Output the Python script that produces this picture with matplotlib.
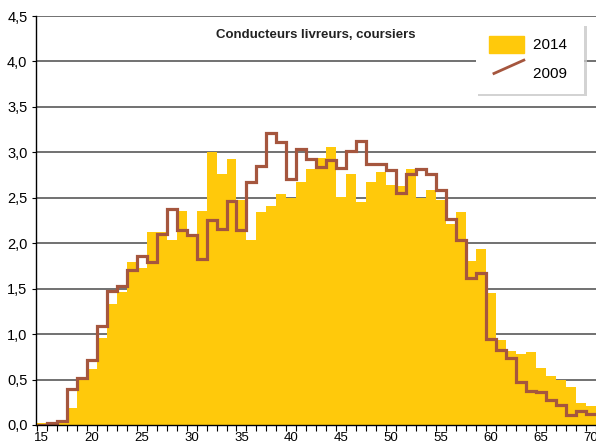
import numpy as np
import matplotlib
matplotlib.use('Agg')
from matplotlib import pyplot as plt
from matplotlib.lines import Line2D
from matplotlib.legend_handler import HandlerBase

plt.rcParams['font.family'] = ['Liberation Sans', 'DejaVu Sans']

# ages (one bar per year)
ages = list(range(15, 71))

# share of workers by age, 2014 (bars)
v2014 = [0.02, 0.02, 0.03, 0.19, 0.52, 0.62, 0.96, 1.33, 1.46, 1.79,
         1.73, 2.12, 2.12, 2.04, 2.36, 2.07, 2.36, 3.00, 2.76, 2.93,
         2.48, 2.03, 2.34, 2.41, 2.54, 2.50, 2.67, 2.82, 2.94, 3.06,
         2.51, 2.76, 2.45, 2.67, 2.78, 2.64, 2.63, 2.82, 2.50, 2.59,
         2.48, 2.21, 2.34, 1.80, 1.94, 1.45, 0.94, 0.81, 0.78, 0.80,
         0.63, 0.54, 0.50, 0.42, 0.24, 0.21]

# share of workers by age, 2009 (step line)
v2009 = [0.00, 0.02, 0.04, 0.40, 0.52, 0.71, 1.09, 1.47, 1.53, 1.71,
         1.86, 1.79, 2.10, 2.38, 2.15, 2.09, 1.83, 2.26, 2.16, 2.47,
         2.15, 2.67, 2.85, 3.21, 3.11, 2.71, 3.04, 2.93, 2.84, 2.92,
         2.83, 3.02, 3.12, 2.87, 2.87, 2.81, 2.55, 2.76, 2.82, 2.76,
         2.59, 2.27, 2.04, 1.62, 1.67, 0.95, 0.82, 0.74, 0.47, 0.37,
         0.36, 0.28, 0.22, 0.11, 0.15, 0.12]

yticks = [0.0, 0.5, 1.0, 1.5, 2.0, 2.5, 3.0, 3.5, 4.0, 4.5]
xticks = [15, 20, 25, 30, 35, 40, 45, 50, 55, 60, 65, 70]

yellow = '#ffc90b'
brown = '#a5563e'


# petit trait en biais pour la légende de la courbe
class DiagHandler(HandlerBase):
    def create_artists(self, legend, orig_handle, xdescent, ydescent,
                       width, height, fontsize, trans):
        l = Line2D([xdescent + 0.15 * width, xdescent + width],
                   [ydescent + 0.05 * height, ydescent + 0.85 * height],
                   color=orig_handle.get_color(), lw=orig_handle.get_linewidth(),
                   transform=trans)
        return [l]


fig = plt.figure(figsize=(5.96, 4.45), dpi=100)
ax = fig.add_axes([0.06, 0.045, 0.94, 0.919])

ax.bar(ages, v2014, width=1.0, color=yellow, linewidth=0, zorder=2, label='2014')
edges = np.arange(ages[0] - 0.5, ages[-1] + 1.0, 1.0)
ax.stairs(v2009, edges, baseline=None, color=brown, lw=2.3, zorder=3)

ax.set_xlim(14.4, 70.1)
ax.set_ylim(0, 4.5)
ax.set_yticks(yticks)
ax.set_yticklabels([('%.1f' % t).replace('.', ',') for t in yticks], fontsize=10.5)
ax.set_xticks(xticks)
ax.set_xticklabels([str(t) for t in xticks], fontsize=9.5)
ax.set_xticks(edges, minor=True)
ax.tick_params(axis='x', which='major', length=0, pad=5)
ax.tick_params(axis='x', which='minor', length=4, width=0.8, direction='out')
ax.tick_params(axis='y', length=3, width=0.8, pad=3)

ax.yaxis.grid(True, color='#4a4a4a', lw=1.1, zorder=1)
ax.set_axisbelow(True)
for s in ['top', 'right']:
    ax.spines[s].set_visible(False)
ax.spines['left'].set_linewidth(1.0)
ax.spines['bottom'].set_linewidth(1.0)
ax.spines['bottom'].set_zorder(4)

ax.text(0.5, 0.953, 'Conducteurs livreurs, coursiers', transform=ax.transAxes,
        ha='center', va='center', fontsize=9.5, fontweight='bold', color='#222222')

h_line = Line2D([], [], color=brown, lw=2.0)
h_bar = plt.Rectangle((0, 0), 1, 1, color=yellow)
leg = ax.legend([h_bar, h_line], ['2014 ', '2009 '], loc='upper right',
                bbox_to_anchor=(0.979, 0.983), borderaxespad=0, fontsize=11,
                frameon=True, fancybox=False, shadow={'color': '#c8c8c8', 'alpha': 0.8},
                edgecolor='white', handlelength=2.3, handleheight=1.3,
                handletextpad=0.6, labelspacing=0.75, borderpad=0.85,
                handler_map={Line2D: DiagHandler()})
leg.get_frame().set_linewidth(0)
leg.set_zorder(5)

plt.savefig('out.png', dpi=100)
